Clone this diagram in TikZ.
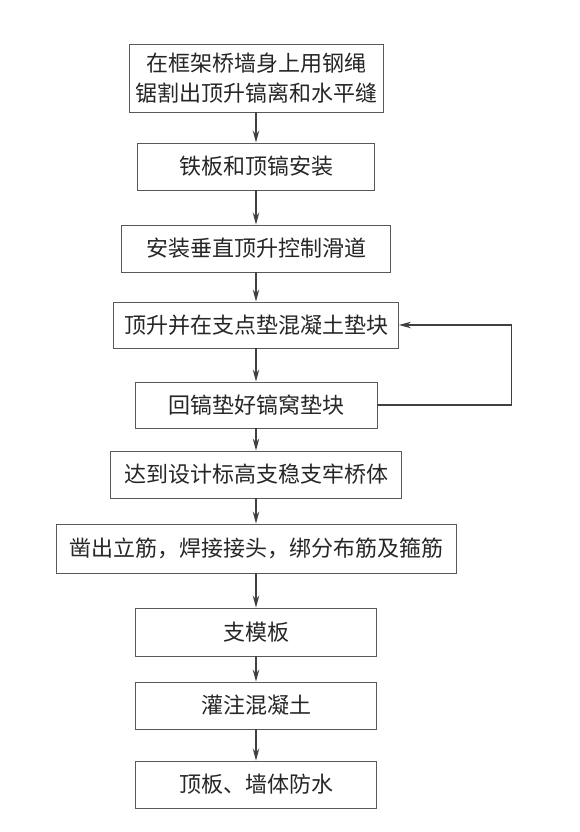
\documentclass[tikz,border=0pt]{standalone}
\usepackage{fontspec}
\setmainfont{Noto Sans CJK SC}
\usetikzlibrary{arrows.meta}
\begin{document}
\begin{tikzpicture}[
  x=1pt, y=-1pt,
  block/.style={rectangle, draw=black!65, line width=0.9pt, minimum height=47pt, inner sep=0pt, align=center, font=\fontsize{22}{30}\selectfont, text=black!85},
  flow/.style={-{Stealth[length=12pt,width=6.5pt]}, line width=1.3pt, draw=black!75},
  node distance=80pt
]
\useasboundingbox (0,0) rectangle (579,832);
\node[block, minimum width=254pt, minimum height=68pt] (saw) at (256,78) {在框架桥墙身上用钢绳\\锯割出顶升镐离和水平缝};
\node[block, below of=saw, node distance=88.5pt, minimum width=237pt] (plate) {铁板和顶镐安装};
\node[block, below of=plate, node distance=82pt, minimum width=269pt] (slide) {安装垂直顶升控制滑道};
\node[block, below of=slide, node distance=76.5pt, minimum width=285pt, minimum height=46pt] (lift) {顶升并在支点垫混凝土垫块};
\node[block, below of=lift, node distance=80pt, minimum width=242pt, minimum height=46pt] (ret) {回镐垫好镐窝垫块};
\node[block, below of=ret, node distance=69.5pt, minimum width=291pt] (hold) {达到设计标高支稳支牢桥体};
\node[block, below of=hold, node distance=74pt, minimum width=400pt, minimum height=49pt] (rebar) {凿出立筋，焊接接头，绑分布筋及箍筋};
\node[block, below of=rebar, node distance=83.5pt, minimum width=241pt, minimum height=48pt] (form) {支模板};
\node[block, below of=form, node distance=73.5pt, minimum width=241pt] (pour) {灌注混凝土};
\node[block, below of=pour, node distance=79pt, minimum width=241pt] (proof) {顶板、墙体防水};

\draw[flow] (saw) -- (plate);
\draw[flow] (plate) -- (slide);
\draw[flow] (slide) -- (lift);
\draw[flow] (lift) -- (ret);
\draw[flow] (ret) -- (hold);
\draw[flow] (hold) -- (rebar);
\draw[flow] (rebar) -- (form);
\draw[flow] (form) -- (pour);
\draw[flow] (pour) -- (proof);
% repeat loop
\draw[flow, line width=1.6pt] (ret.east) -- ++(134,0) |- (lift.east);
\end{tikzpicture}
\end{document}
